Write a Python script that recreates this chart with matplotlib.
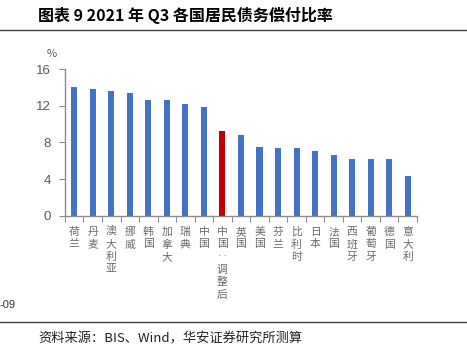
import matplotlib
matplotlib.use('Agg')
import matplotlib.pyplot as plt
from matplotlib.lines import Line2D

plt.rcParams['font.family'] = ['Noto Sans CJK SC', 'DejaVu Sans']

countries = ['荷兰', '丹麦', '澳大利亚', '挪威', '韩国', '加拿大', '瑞典', '中国',
             '中国:调整后', '英国', '美国', '芬兰', '比利时', '日本', '法国', '西班牙',
             '葡萄牙', '德国', '意大利']
ratio = [14.0, 13.8, 13.6, 13.4, 12.6, 12.6, 12.2, 11.9,
         9.2, 8.8, 7.5, 7.4, 7.4, 7.1, 6.6, 6.2, 6.2, 6.2, 4.4]
highlight = '中国:调整后'
yticks = [0, 4, 8, 12, 16]

blue = '#4472C4'
red = '#C00000'
grey = '#595959'

fig = plt.figure(figsize=(4.67, 3.54), dpi=100)
ax = fig.add_axes([0.139, 0.390, 0.754, 0.415])

colors = [red if c == highlight else blue for c in countries]
x = list(range(len(countries)))
ax.bar(x, ratio, width=0.33, color=colors)

ax.set_xlim(-0.5, len(countries) - 0.5)
ax.set_ylim(0, 16)
ax.set_yticks(yticks)
ax.set_yticklabels([str(v) for v in yticks], fontsize=9.5, color=grey, family='Liberation Sans')
ax.tick_params(axis='y', direction='out', length=4, color='#8c8c8c', pad=6)

# category ticks between bars, labels drawn vertically
ax.set_xticks([i - 0.5 for i in range(len(countries) + 1)])
ax.set_xticklabels([])
ax.tick_params(axis='x', direction='out', length=4, color='#8c8c8c')
for i, c in enumerate(countries):
    vert = '\n'.join(c.replace(':', '‥'))
    ax.text(i, -1.2, vert, ha='center', va='top', fontsize=7.8, color='#6a6a6a',
            linespacing=1.3)

for s in ['top', 'right']:
    ax.spines[s].set_visible(False)
for s in ['left', 'bottom']:
    ax.spines[s].set_color('#8c8c8c')
    ax.spines[s].set_linewidth(1)

fig.text(52 / 467, 1 - 54 / 354, '%', fontsize=8, color=grey, ha='center', va='center')

fig.text(38 / 467, 1 - 15 / 354, '图表 9 2021 年 Q3 各国居民债务偿付比率',
         fontsize=11.5, fontweight='bold', ha='left', va='center')
fig.add_artist(Line2D([0, 0.997], [1 - 30 / 354] * 2, color='#404040', lw=1))
fig.add_artist(Line2D([0, 0.997], [1 - 322 / 354] * 2, color='#404040', lw=1))

fig.text(0, 1 - 305 / 354, '-09', fontsize=8, color='#333333', ha='left', va='center',
         family='Liberation Sans')
fig.text(38 / 467, 1 - 339 / 354, '资料来源：BIS、Wind，华安证券研究所测算',
         fontsize=9.5, color='#222222', ha='left', va='center')

fig.savefig('out.png', dpi=100)
